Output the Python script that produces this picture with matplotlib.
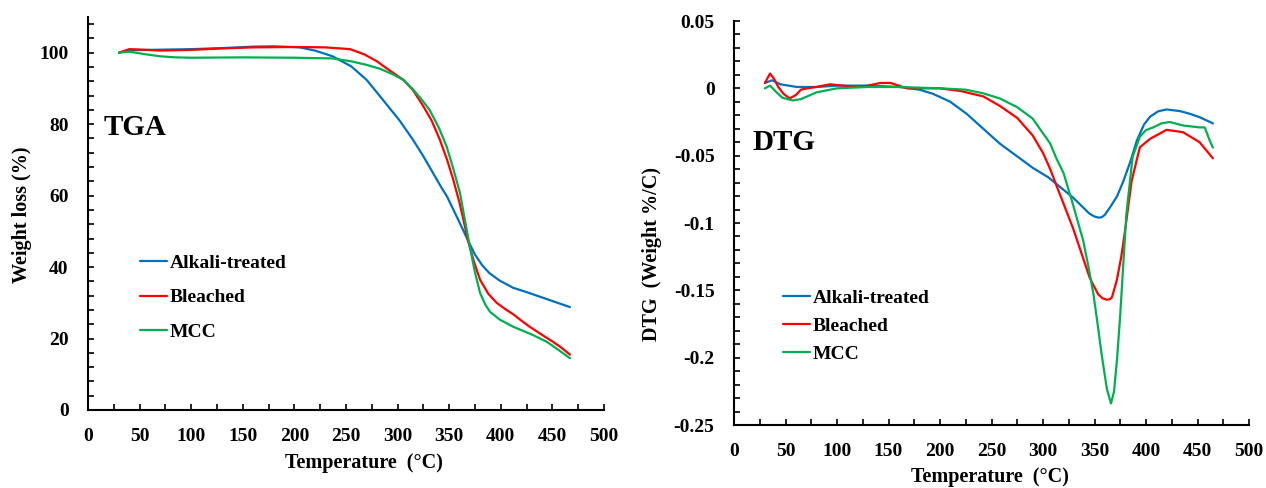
import matplotlib
matplotlib.use("Agg")
import matplotlib.pyplot as plt
from matplotlib.ticker import MultipleLocator

plt.rcParams['font.family'] = ['Liberation Serif', 'DejaVu Serif']
plt.rcParams['font.weight'] = 'bold'
plt.rcParams['axes.unicode_minus'] = False

# ---------------- TGA data ----------------
tga_alk_t = [30, 40, 60, 80, 100, 130, 160, 180, 205, 220, 237, 255, 270, 283, 302, 315,
             325, 334, 342, 348, 355, 360, 368, 375, 382, 389, 399, 412, 425, 438, 450, 467]
tga_alk_w = [100, 100.7, 100.8, 100.9, 101.0, 101.3, 101.7, 101.8, 101.5, 100.6, 99.0, 96.2,
             92.4, 87.8, 81.0, 75.6, 71.0, 66.5, 62.5, 59.7, 55.5, 52.5, 47.6, 43.5, 40.5,
             38.3, 36.2, 34.2, 33.0, 31.7, 30.5, 28.8]

tga_ble_t = [30, 40, 50, 70, 100, 130, 160, 200, 230, 254, 268, 280, 290, 305.6, 315, 325,
             333, 341, 348, 354, 360, 364, 368, 374, 380, 388, 396, 404, 412, 420, 428, 438,
             450, 458, 467]
tga_ble_w = [100, 101.0, 100.9, 100.6, 100.8, 101.2, 101.5, 101.6, 101.5, 101.0, 99.5, 97.6,
             95.5, 92.4, 89.5, 85.0, 81.0, 75.6, 70.0, 64.4, 58.0, 53.0, 47.6, 41.5, 36.4,
             32.5, 30.0, 28.3, 26.8, 25.0, 23.3, 21.4, 19.2, 17.6, 15.5]

tga_mcc_t = [30, 40, 55, 70, 85, 100, 150, 200, 237, 255, 270, 283, 295, 305.6, 315, 323,
             331, 340, 347.5, 354, 360.5, 365, 370, 375, 380, 385, 389.5, 399, 412, 431,
             444.5, 455, 467]
tga_mcc_w = [100, 100.3, 99.6, 99.0, 98.7, 98.6, 98.7, 98.6, 98.4, 97.6, 96.6, 95.5, 94.0,
             92.4, 89.7, 87.0, 84.0, 79.0, 73.8, 67.5, 60.7, 53.5, 45.7, 38.5, 32.7, 29.5,
             27.5, 25.3, 23.3, 21.0, 19.1, 17.0, 14.5]

# ---------------- DTG data ----------------
dtg_alk_t = [30, 37, 45, 61, 80, 100, 130, 161, 180, 193, 210, 226, 242, 258, 274, 290, 305,
             313, 329, 345, 350, 354, 357, 360, 365, 372, 378, 385, 391, 398, 404, 412, 420,
             433, 443, 452, 465]
dtg_alk_v = [0.004, 0.006, 0.003, 0.001, 0.001, 0.002, 0.002, 0.001, -0.001, -0.004, -0.010,
             -0.019, -0.030, -0.041, -0.050, -0.059, -0.066, -0.071, -0.081, -0.093, -0.0952,
             -0.096, -0.0957, -0.094, -0.0885, -0.080, -0.069, -0.054, -0.039, -0.027,
             -0.021, -0.017, -0.0157, -0.0169, -0.019, -0.0214, -0.026]

dtg_ble_t = [30, 35, 39, 43, 48, 54, 60, 65, 71, 80, 93, 106, 120, 130, 142, 152, 160, 168,
             185, 200, 220, 242, 258, 275, 290, 300, 307, 313, 329, 345.5, 353.6, 358, 362,
             365, 367, 371.5, 376, 379.6, 386, 394, 404, 420, 436, 452, 465]
dtg_ble_v = [0.004, 0.011, 0.007, 0.001, -0.004, -0.0075, -0.005, -0.001, 0.0, 0.001, 0.003,
             0.002, 0.001, 0.002, 0.004, 0.004, 0.002, 0.0, 0.0, 0.0, -0.002, -0.006, -0.013,
             -0.022, -0.035, -0.048, -0.060, -0.072, -0.1035, -0.141, -0.153, -0.156, -0.157,
             -0.1565, -0.155, -0.143, -0.125, -0.106, -0.069, -0.0438, -0.0375, -0.0308,
             -0.0326, -0.040, -0.052]

dtg_mcc_t = [30, 35, 40, 47, 57, 65, 80, 100, 130, 160, 200, 225, 242, 258, 275, 290, 307,
             313, 320, 329, 339, 344, 349, 353, 357, 362, 366, 369, 372, 375, 378, 381, 387,
             394, 400, 407, 415, 423, 436, 452, 457, 462, 465]
dtg_mcc_v = [0.0, 0.002, -0.002, -0.007, -0.009, -0.008, -0.003, 0.0, 0.001, 0.001, 0.0,
             -0.001, -0.0037, -0.0075, -0.014, -0.0225, -0.041, -0.052, -0.063, -0.086,
             -0.113, -0.132, -0.153, -0.175, -0.198, -0.223, -0.234, -0.225, -0.200, -0.168,
             -0.130, -0.093, -0.051, -0.036, -0.031, -0.029, -0.026, -0.025, -0.0276, -0.029,
             -0.029, -0.039, -0.044]

series_labels = ['Alkali-treated', 'Bleached', 'MCC']
series_colors = ['#0070C0', '#FF0000', '#00B050']

x_ticks = list(range(0, 501, 50))
tga_yticks = list(range(0, 101, 20))
dtg_yticks = [0.05, 0, -0.05, -0.1, -0.15, -0.2, -0.25]
dtg_yticklabels = ['0.05', '0', '-0.05', '-0.1', '-0.15', '-0.2', '-0.25']

W, H = 1266, 488
fig = plt.figure(figsize=(W / 100, H / 100), dpi=100)

def fx(px):
    return px / W

def fy(py):
    return 1 - py / H

axL = fig.add_axes([fx(88), fy(410), fx(604) - fx(88), fy(17) - fy(410)])
axR = fig.add_axes([fx(734), fy(425), fx(1249) - fx(734), fy(21) - fy(425)])

lw = 1.6
for t, w, lab, c in zip([tga_alk_t, tga_ble_t, tga_mcc_t], [tga_alk_w, tga_ble_w, tga_mcc_w],
                        series_labels, series_colors):
    axL.plot(t, w, color=c, lw=lw, label=lab, solid_capstyle='round', solid_joinstyle='round')
for t, v, lab, c in zip([dtg_alk_t, dtg_ble_t, dtg_mcc_t], [dtg_alk_v, dtg_ble_v, dtg_mcc_v],
                        series_labels, series_colors):
    axR.plot(t, v, color=c, lw=lw, label=lab, solid_capstyle='round', solid_joinstyle='round')

for ax in (axL, axR):
    ax.spines['top'].set_visible(False)
    ax.spines['right'].set_visible(False)
    for s in ('left', 'bottom'):
        ax.spines[s].set_linewidth(1.5)
    ax.set_xlim(0, 500)
    ax.set_xticks(x_ticks)
    ax.xaxis.set_minor_locator(MultipleLocator(25))
    ax.tick_params(which='both', direction='in', length=4, width=1.2, labelsize=14)
    ax.tick_params(axis='x', which='major', pad=13)
    ax.tick_params(axis='y', which='major', pad=14)

axL.set_ylim(0, 110)
axL.set_yticks(tga_yticks)
axL.yaxis.set_minor_locator(MultipleLocator(4))

axR.set_ylim(-0.25, 0.05)
axR.set_yticks(dtg_yticks)
axR.set_yticklabels(dtg_yticklabels)
axR.yaxis.set_minor_locator(MultipleLocator(0.01))

for ax in (axL, axR):
    for lbl in ax.get_xticklabels() + ax.get_yticklabels():
        lbl.set_fontweight('bold')

# panel titles
axL.text(15.5, 77, 'TGA', fontsize=21, fontweight='bold', ha='left', va='baseline')
axR.text(17.5, -0.046, 'DTG', fontsize=21, fontweight='bold', ha='left', va='baseline')

# axis labels
fig.text(fx(364), fy(468), 'Temperature  (°C)', fontsize=14.5, fontweight='bold',
         ha='center', va='baseline')
fig.text(fx(990), fy(482), 'Temperature  (°C)', fontsize=14.5, fontweight='bold',
         ha='center', va='baseline')
fig.text(fx(22), fy(215), 'Weight loss (%)', fontsize=14.5, fontweight='bold',
         ha='center', va='center', rotation=90)
fig.text(fx(652), fy(254), 'DTG  (Weight %/C)', fontsize=14.5, fontweight='bold',
         ha='center', va='center', rotation=90)

# legends
axL.legend(loc='upper left', bbox_to_anchor=(fx(140), fy(254)),
           bbox_transform=fig.transFigure, frameon=False, borderpad=0,
           borderaxespad=0, handlelength=1.4, handletextpad=0.15,
           labelspacing=0.88, prop={'size': 14, 'weight': 'bold'})
axR.legend(loc='upper left', bbox_to_anchor=(fx(783), fy(289)),
           bbox_transform=fig.transFigure, frameon=False, borderpad=0,
           borderaxespad=0, handlelength=1.4, handletextpad=0.15,
           labelspacing=0.55, prop={'size': 14, 'weight': 'bold'})

fig.savefig('out.png', dpi=100)
